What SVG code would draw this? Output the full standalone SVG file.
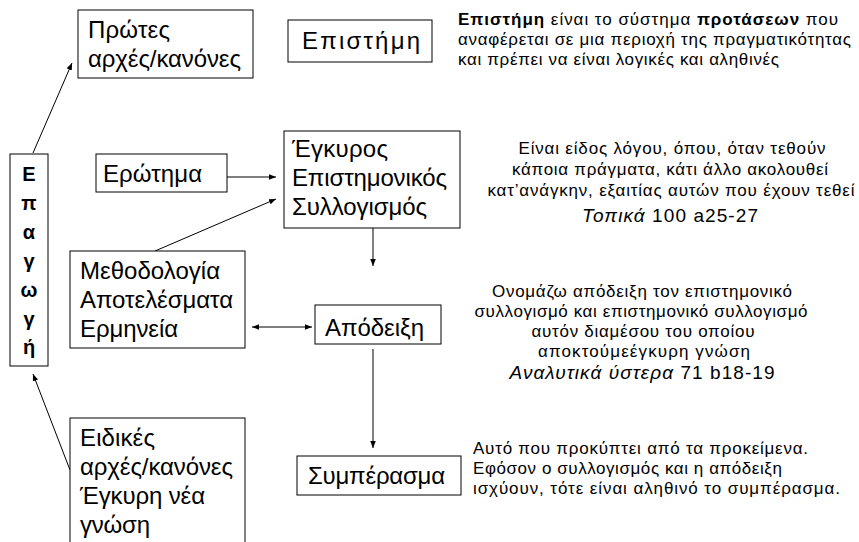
<svg xmlns="http://www.w3.org/2000/svg" width="859" height="542" viewBox="0 0 859 542">
<defs>
<marker id="ah" viewBox="0 0 10 10" refX="10" refY="5" markerWidth="7" markerHeight="7" markerUnits="userSpaceOnUse" orient="auto-start-reverse">
<path d="M0,1 L10,5 L0,9 z" fill="#000"/>
</marker>
<style>
.box{fill:#fff;stroke:#000;stroke-width:1}
.t{font-family:"Liberation Sans",Arial,sans-serif;font-size:24px;fill:#000}
.v{font-family:"Liberation Sans",Arial,sans-serif;font-size:20px;font-weight:bold;fill:#000;text-anchor:middle}
.s{font-family:"Liberation Sans",Arial,sans-serif;font-size:17px;fill:#000}
.r{font-size:19px}
.c{text-anchor:middle}
.ln{fill:none;stroke:#000;stroke-width:1}
</style>
</defs>
<rect width="859" height="542" fill="#fff"/>

<g id="connectors">
<line class="ln" x1="33" y1="153" x2="72" y2="63" marker-end="url(#ah)"/>
<line class="ln" x1="227" y1="177" x2="276" y2="177" marker-end="url(#ah)"/>
<line class="ln" x1="155" y1="251" x2="276" y2="199" marker-end="url(#ah)"/>
<line class="ln" x1="373" y1="228" x2="373" y2="266" marker-end="url(#ah)"/>
<line class="ln" x1="252" y1="327" x2="312" y2="327" marker-start="url(#ah)" marker-end="url(#ah)"/>
<line class="ln" x1="373" y1="349" x2="373" y2="448" marker-end="url(#ah)"/>
<line class="ln" x1="70" y1="470" x2="33" y2="374" marker-end="url(#ah)"/>
</g>

<g id="protes">
<rect class="box" x="78" y="10" width="175" height="68"/>
<text class="t" x="88" y="38" textLength="82" lengthAdjust="spacing">Πρώτες</text>
<text class="t" x="88" y="67" textLength="153" lengthAdjust="spacing">αρχές/κανόνες</text>
</g>

<g id="episteme">
<rect class="box" x="288" y="20" width="144" height="42"/>
<text class="t" x="302" y="49" textLength="118" lengthAdjust="spacing">Επιστήμη</text>
</g>

<g id="epagogi">
<rect class="box" x="10" y="154" width="38" height="212"/>
<text class="v" x="29" y="181">Ε</text>
<text class="v" x="29" y="210">π</text>
<text class="v" x="29" y="239">α</text>
<text class="v" x="29" y="268">γ</text>
<text class="v" x="29" y="297">ω</text>
<text class="v" x="29" y="326">γ</text>
<text class="v" x="29" y="354">ή</text>
</g>

<g id="erotima">
<rect class="box" x="96" y="154" width="131" height="38"/>
<text class="t" x="103" y="182" textLength="99" lengthAdjust="spacing">Ερώτημα</text>
</g>

<g id="syllogismos">
<rect class="box" x="284" y="131" width="176" height="97"/>
<text class="t" x="292" y="157" textLength="96" lengthAdjust="spacing">Έγκυρος</text>
<text class="t" x="292" y="186" textLength="155" lengthAdjust="spacing">Επιστημονικός</text>
<text class="t" x="292" y="215" textLength="135" lengthAdjust="spacing">Συλλογισμός</text>
</g>

<g id="methodologia">
<rect class="box" x="70" y="251" width="175" height="97"/>
<text class="t" x="80" y="279" textLength="140" lengthAdjust="spacing">Μεθοδολογία</text>
<text class="t" x="80" y="308" textLength="153" lengthAdjust="spacing">Αποτελέσματα</text>
<text class="t" x="80" y="337" textLength="98" lengthAdjust="spacing">Ερμηνεία</text>
</g>

<g id="apodeixi">
<rect class="box" x="315" y="305" width="126" height="39"/>
<text class="t" x="325" y="336" textLength="99" lengthAdjust="spacing">Απόδειξη</text>
</g>

<g id="eidikes">
<rect class="box" x="70" y="418" width="175" height="130"/>
<text class="t" x="80" y="446" textLength="75" lengthAdjust="spacing">Ειδικές</text>
<text class="t" x="80" y="475" textLength="153" lengthAdjust="spacing">αρχές/κανόνες</text>
<text class="t" x="80" y="504" textLength="125" lengthAdjust="spacing">Έγκυρη νέα</text>
<text class="t" x="80" y="533" textLength="70" lengthAdjust="spacing">γνώση</text>
</g>

<g id="symperasma">
<rect class="box" x="297" y="456" width="164" height="39"/>
<text class="t" x="308" y="484" textLength="137" lengthAdjust="spacing">Συμπέρασμα</text>
</g>

<g id="note-episteme">
<text class="s" x="458" y="25" textLength="380" lengthAdjust="spacing"><tspan font-weight="bold">Επιστήμη</tspan> είναι το σύστημα <tspan font-weight="bold">προτάσεων</tspan> που</text>
<text class="s" x="458" y="45" textLength="393" lengthAdjust="spacing">αναφέρεται σε μια περιοχή της πραγματικότητας</text>
<text class="s" x="458" y="65" textLength="321" lengthAdjust="spacing">και πρέπει να είναι λογικές και αληθινές</text>
</g>

<g id="note-syllogismos">
<text class="s c" x="672" y="154" textLength="307" lengthAdjust="spacing">Είναι είδος λόγου, όπου, όταν τεθούν</text>
<text class="s c" x="670" y="175" textLength="316" lengthAdjust="spacing">κάποια πράγματα, κάτι άλλο ακολουθεί</text>
<text class="s c" x="671" y="196" textLength="367" lengthAdjust="spacing">κατ’ανάγκην, εξαιτίας αυτών που έχουν τεθεί</text>
<text class="s c r" x="670" y="222" textLength="176" lengthAdjust="spacing"><tspan font-style="italic">Τοπικά</tspan> 100 a25-27</text>
</g>

<g id="note-apodeixi">
<text class="s c" x="642" y="297" textLength="300" lengthAdjust="spacing">Ονομάζω απόδειξη τον επιστημονικό</text>
<text class="s c" x="641" y="317" textLength="333" lengthAdjust="spacing">συλλογισμό και επιστημονικό συλλογισμό</text>
<text class="s c" x="643" y="337" textLength="223" lengthAdjust="spacing">αυτόν διαμέσου του οποίου</text>
<text class="s c" x="644" y="357" textLength="212" lengthAdjust="spacing">αποκτούμεέγκυρη γνώση</text>
<text class="s c r" x="642" y="379" textLength="265" lengthAdjust="spacing"><tspan font-style="italic">Αναλυτικά ύστερα</tspan> 71 b18-19</text>
</g>

<g id="note-symperasma">
<text class="s" x="473" y="454" textLength="335" lengthAdjust="spacing">Αυτό που προκύπτει από τα προκείμενα.</text>
<text class="s" x="473" y="474" textLength="309" lengthAdjust="spacing">Εφόσον ο συλλογισμός και η απόδειξη</text>
<text class="s" x="473" y="494" textLength="367" lengthAdjust="spacing">ισχύουν, τότε είναι αληθινό το συμπέρασμα.</text>
</g>
</svg>
